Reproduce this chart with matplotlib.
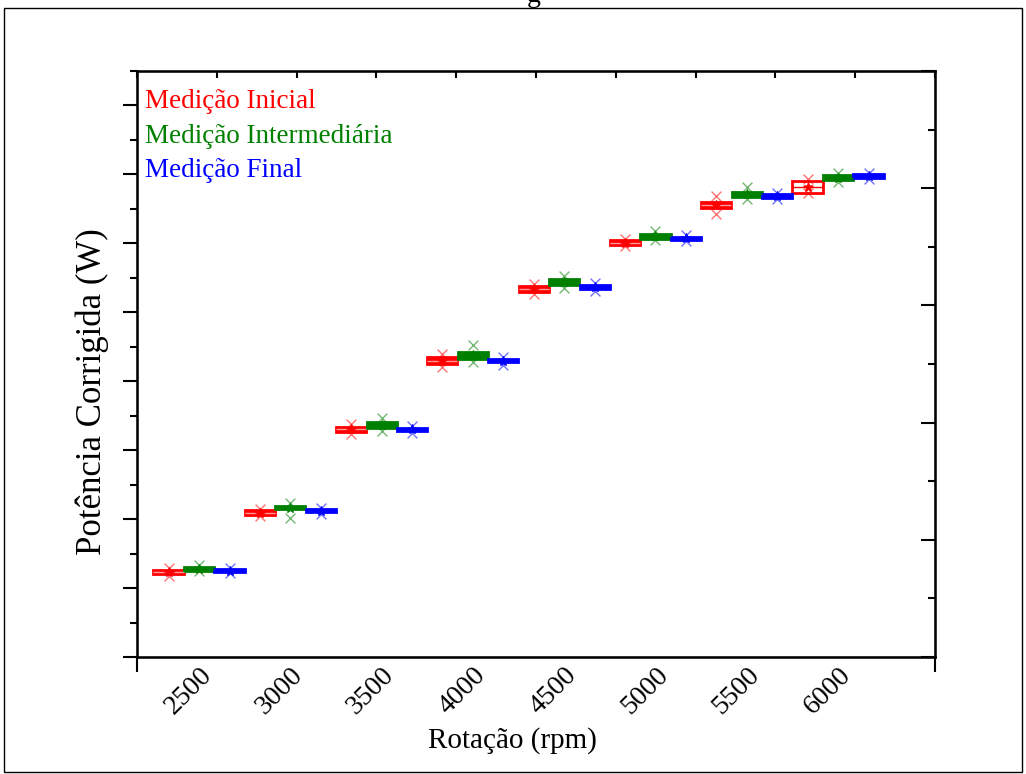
import matplotlib
matplotlib.use("Agg")
import matplotlib.pyplot as plt
from matplotlib.patches import Rectangle
from matplotlib.ticker import MultipleLocator

plt.rcParams['font.family'] = ['Liberation Serif', 'DejaVu Serif']

# rotação (rpm)
rotacao = [2500, 3000, 3500, 4000, 4500, 5000, 5500, 6000]

# Medição Inicial
ini_med = [2.47, 4.19, 6.60, 8.60, 10.67, 12.01, 13.11, 13.63]
ini_q1 = [2.41, 4.12, 6.53, 8.51, 10.60, 11.94, 13.02, 13.47]
ini_q3 = [2.53, 4.26, 6.68, 8.69, 10.75, 12.09, 13.21, 13.80]
ini_lo = [2.36, 4.08, 6.46, 8.42, 10.53, 11.92, 12.86, 13.45]
ini_hi = [2.58, 4.30, 6.75, 8.80, 10.82, 12.12, 13.36, 13.86]

# Medição Intermediária
int_med = [2.56, 4.33, 6.72, 8.75, 10.87, 12.21, 13.43, 13.90]
int_q1 = [2.50, 4.28, 6.63, 8.65, 10.78, 12.14, 13.35, 13.83]
int_q3 = [2.62, 4.39, 6.81, 8.86, 10.96, 12.28, 13.50, 13.97]
int_lo = [2.50, 4.02, 6.55, 8.55, 10.70, 12.10, 13.28, 13.78]
int_hi = [2.66, 4.48, 6.92, 9.05, 11.05, 12.36, 13.62, 14.03]

# Medição Final
fin_med = [2.50, 4.24, 6.60, 8.60, 10.73, 12.15, 13.37, 13.95]
fin_q1 = [2.46, 4.20, 6.55, 8.55, 10.68, 12.11, 13.32, 13.90]
fin_q3 = [2.54, 4.28, 6.65, 8.65, 10.78, 12.19, 13.42, 14.00]
fin_lo = [2.43, 4.16, 6.50, 8.48, 10.62, 12.08, 13.28, 13.87]
fin_hi = [2.58, 4.31, 6.69, 8.71, 10.86, 12.23, 13.46, 14.04]

series = [
    ("Medição Inicial", "#ff0000", -167, ini_med, ini_q1, ini_q3, ini_lo, ini_hi),
    ("Medição Intermediária", "#008000", 0, int_med, int_q1, int_q3, int_lo, int_hi),
    ("Medição Final", "#0000ff", 167, fin_med, fin_q1, fin_q3, fin_lo, fin_hi),
]

fig = plt.figure(figsize=(10.26, 7.74), dpi=100)
ax = fig.add_axes([0.1335, 0.1512, 0.7778, 0.7571])

for nome, cor, desloc, med, q1, q3, lo, hi in series:
    pos = [r + desloc for r in rotacao]
    stats = []
    for i in range(len(rotacao)):
        stats.append({"med": med[i], "q1": q1[i], "q3": q3[i],
                      "whislo": q1[i], "whishi": q3[i], "fliers": []})
    bp = ax.bxp(stats, positions=pos, widths=165, patch_artist=True,
                showcaps=False, manage_ticks=False,
                boxprops=dict(facecolor=cor, edgecolor=cor, linewidth=2),
                medianprops=dict(color=cor, linewidth=1),
                whiskerprops=dict(color=cor, linewidth=0))
    if cor == "#ff0000":
        for m in bp["medians"]:
            m.set_color("white")
            m.set_alpha(0.6)
        # última caixa da medição inicial é vazada
        bp["boxes"][-1].set_facecolor("white")
        bp["medians"][-1].set_color(cor)
        bp["medians"][-1].set_alpha(1)
    ax.scatter(pos, lo, marker="x", color=cor, alpha=0.55, s=50, linewidths=1, zorder=4)
    ax.scatter(pos, hi, marker="x", color=cor, alpha=0.55, s=50, linewidths=1, zorder=4)
    ax.scatter(pos, med, marker="*", color=cor, s=45, zorder=5)

ax.set_xlim(2160, 6531)
ax.set_ylim(0, 17)
ax.set_xticks(rotacao)
ax.set_xticklabels([str(r) for r in rotacao], rotation=45, ha="right",
                   rotation_mode="anchor", fontsize=20)
ax.tick_params(axis="x", length=0, pad=4)
ax.yaxis.set_major_locator(MultipleLocator(2))
ax.yaxis.set_minor_locator(MultipleLocator(1))
ax.tick_params(axis="y", which="major", direction="out", length=10, width=1.5, labelleft=False)
ax.tick_params(axis="y", which="minor", direction="out", length=5, width=1.5)
for s in ax.spines.values():
    s.set_linewidth(1.8)

ax.set_xlabel("Rotação (rpm)", fontsize=21)
ax.xaxis.set_label_coords(0.47, -0.119)
ax.set_ylabel("Potência Corrigida (W)", fontsize=25)
ax.yaxis.set_label_coords(-0.035, 0.452)

# eixo direito
axr = ax.twinx()
axr.set_ylim(0, 10)
axr.yaxis.set_major_locator(MultipleLocator(2))
axr.yaxis.set_minor_locator(MultipleLocator(1))
axr.tick_params(axis="y", which="major", direction="in", length=10, width=1.5, labelright=False)
axr.tick_params(axis="y", which="minor", direction="in", length=5, width=1.5)

# eixo superior
axt = ax.twiny()
axt.set_xlim(0, 10)
axt.set_xticks(range(11))
axt.tick_params(axis="x", direction="in", length=5, width=1.5, labeltop=False)
axt.tick_params(axis="x", which="both", bottom=False, labelbottom=False)

# marcas nas extremidades do eixo inferior
axb = ax.secondary_xaxis("bottom")
axb.set_xticks([2160, 6531])
axb.tick_params(direction="out", length=11, width=1.5, labelbottom=False)

# legenda em texto colorido
for k, (nome, cor, *_rest) in enumerate(series):
    ax.text(0.010, 0.948 - k * 0.059, nome, color=cor, fontsize=19.5,
            transform=ax.transAxes, va="center", ha="left")

fig.text(0.52, 0.998, "g", fontsize=20, ha="center", va="baseline")
fig.patches.append(Rectangle((0.004, 0.002), 0.992, 0.988, transform=fig.transFigure,
                             fill=False, edgecolor="black", linewidth=1))

fig.savefig("out.png", dpi=100)
